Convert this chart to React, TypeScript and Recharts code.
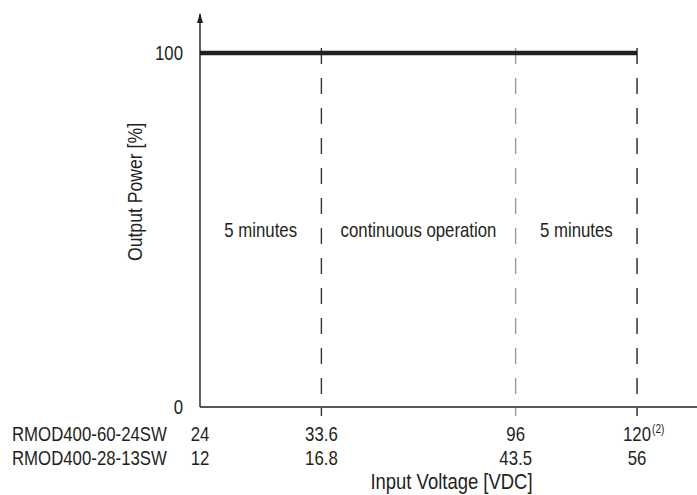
import React from 'react';
import {
  ComposedChart,
  Line,
  XAxis,
  YAxis,
  ReferenceLine,
  ReferenceArea,
  ReferenceDot,
} from 'recharts';

const models = ['RMOD400-60-24SW', 'RMOD400-28-13SW'];
const voltsA = ['24', '33.6', '96', '120'];
const voltsB = ['12', '16.8', '43.5', '56'];
const footnote = '(2)';
// relative widths of the operating regions on the (non-linear) schematic axis
const regionWidths = [1, 1.6, 1];
const regionLabels = ['5 minutes', 'continuous operation', '5 minutes'];
const ratedPower = 100;
const powerTicks = [0, 100];

const stops = regionWidths.reduce((acc, w) => [...acc, acc[acc.length - 1] + w], [0]);
const powerData = [
  { pos: stops[0], power: ratedPower },
  { pos: stops[stops.length - 1], power: ratedPower },
];

const FONT = "'Liberation Sans', Arial, sans-serif";
const INK = '#231f20';
const dashColors = ['#333', '#999', '#222'];

// condensed text: the narrow face isn't installed, so squeeze horizontally
const NText = ({ x, y, anchor = 'start', size = 20, rotate = 0, children }: any) => (
  <text
    transform={`translate(${x},${y}) rotate(${rotate}) scale(0.84,1)`}
    x={0}
    y={0}
    textAnchor={anchor}
    fontFamily={FONT}
    fontSize={size}
    fill={INK}
  >
    {children}
  </text>
);

const VoltTick = (props: any) => {
  const { x, y, index } = props;
  return (
    <g>
      {index === 0 && (
        <>
          <NText x={12} y={y + 32}>{models[0]}</NText>
          <NText x={12} y={y + 56}>{models[1]}</NText>
        </>
      )}
      <NText x={x} y={y + 32} anchor="middle">{voltsA[index]}</NText>
      <NText x={x} y={y + 56} anchor="middle">{voltsB[index]}</NText>
      {index === voltsA.length - 1 && (
        <NText x={x + 15} y={y + 24} size={12}>{footnote}</NText>
      )}
    </g>
  );
};

const PowerTick = (props: any) => {
  const { x, y, payload } = props;
  return <NText x={x} y={y + 7} anchor="end">{payload.value}</NText>;
};

const DashShape = (color: string) => (props: any) => {
  const { x1, y1, x2, y2 } = props;
  return (
    <line x1={x1} y1={y1 - 5} x2={x2} y2={y2 + 9} stroke={color} strokeWidth={1.4} strokeDasharray="16 14" />
  );
};

const App = () => {
  return (
    <div style={{ position: 'absolute', left: 0, top: 0 }}>
      <ComposedChart
        width={697}
        height={495}
        data={powerData}
        margin={{ top: 14, right: 0, bottom: 0, left: 0 }}
      >
        <XAxis
          type="number"
          dataKey="pos"
          domain={[0, 4.094]}
          ticks={stops}
          interval={0}
          tick={<VoltTick />}
          tickLine={false}
          tickSize={0}
          height={88}
          axisLine={{ stroke: INK, strokeWidth: 1.4 }}
          allowDataOverflow
          label={{
            content: (p: any) => (
              <NText x={p.viewBox.x + p.viewBox.width / 2 + 3} y={489} anchor="middle" size={22}>
                Input Voltage [VDC]
              </NText>
            ),
          }}
        />
        <YAxis
          type="number"
          domain={[0, 111]}
          ticks={powerTicks}
          width={200}
          tickLine={false}
          tickSize={0}
          tickMargin={17}
          axisLine={{ stroke: INK, strokeWidth: 1.4 }}
          tick={<PowerTick />}
          label={{
            content: () => (
              <NText x={142} y={192} anchor="middle" rotate={-90} size={21}>
                Output Power [%]
              </NText>
            ),
          }}
        />
        {regionLabels.map((lbl, i) => (
          <ReferenceArea
            key={i}
            x1={stops[i]}
            x2={stops[i + 1]}
            y1={0}
            y2={ratedPower}
            fill="none"
            stroke="none"
            label={{
              content: (p: any) => (
                <NText x={p.viewBox.x + p.viewBox.width / 2} y={p.viewBox.y + p.viewBox.height / 2 + 7} anchor="middle">
                  {lbl}
                </NText>
              ),
            }}
          />
        ))}
        {stops.slice(1).map((s, i) => (
          <ReferenceLine
            key={s}
            segment={[
              { x: s, y: ratedPower },
              { x: s, y: 0 },
            ]}
            ifOverflow="visible"
            shape={DashShape(dashColors[i])}
          />
        ))}
        <ReferenceDot
          x={0}
          y={111}
          ifOverflow="visible"
          shape={(p: any) => (
            <polygon points={`${p.cx},${p.cy - 1} ${p.cx - 3},${p.cy + 9} ${p.cx + 3},${p.cy + 9}`} fill={INK} />
          )}
        />
        <Line
          type="linear"
          dataKey="power"
          stroke={INK}
          strokeWidth={4.5}
          dot={false}
          isAnimationActive={false}
        />
      </ComposedChart>
    </div>
  );
};

export default App;
